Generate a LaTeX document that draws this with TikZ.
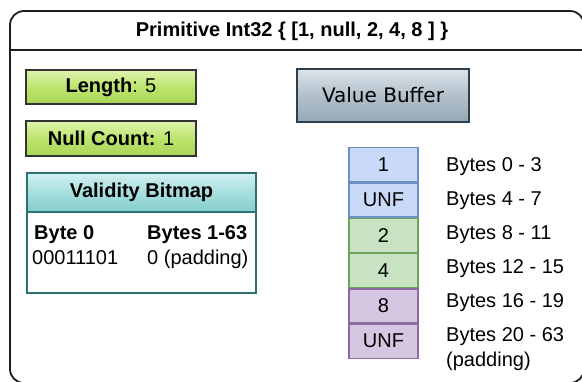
\documentclass[tikz,border=0pt]{standalone}
\usepackage{fontspec}
\setmainfont{Liberation Sans}
\newfontfamily\vbfont{DejaVu Sans}
\definecolor{framec}{HTML}{1E1E1E}
\definecolor{limetop}{HTML}{E0F4B0}
\definecolor{limemid}{HTML}{BCE46C}
\definecolor{limebot}{HTML}{AAD657}
\definecolor{slatetop}{HTML}{DDE4EA}
\definecolor{slatemid}{HTML}{B2C0CB}
\definecolor{slatebot}{HTML}{97A9B6}
\definecolor{slateline}{HTML}{2E3E4A}
\definecolor{tealtop}{HTML}{D2F0F0}
\definecolor{tealmid}{HTML}{A8DEDE}
\definecolor{tealbot}{HTML}{84CCCC}
\definecolor{tealline}{HTML}{2A7373}
\definecolor{bluefill}{HTML}{C9DAF8}
\definecolor{blueline}{HTML}{6D8FC4}
\definecolor{greenfill}{HTML}{C8E2C2}
\definecolor{greenline}{HTML}{6FA35A}
\definecolor{purplefill}{HTML}{D6C6E1}
\definecolor{purpleline}{HTML}{8C6AA4}
\tikzset{
  frame/.style={draw=framec, line width=1.8pt, rounded corners=14pt, inner sep=0},
  limebox/.style={draw=black!80, line width=1.3pt, top color=limetop, bottom color=limebot, middle color=limemid,
    minimum width=170pt, minimum height=34pt, inner sep=0, font=\fontsize{20}{24}\selectfont},
  slatebox/.style={draw=slateline, line width=1.3pt, top color=slatetop, bottom color=slatebot, middle color=slatemid,
    minimum width=172pt, minimum height=53pt, inner sep=0, font=\vbfont\fontsize{20}{24}\selectfont},
  tealhead/.style={draw=tealline, line width=1.3pt, top color=tealtop, bottom color=tealbot, middle color=tealmid,
    minimum width=229pt, minimum height=39pt, inner sep=0, font=\bfseries\fontsize{20}{24}\selectfont},
  tealbody/.style={draw=tealline, line width=1.3pt, fill=white, minimum width=229pt, minimum height=81pt, inner sep=0},
  cell/.style={line width=1.3pt, minimum width=69pt, minimum height=34pt, inner sep=0, anchor=north,
    font=\fontsize{20}{24}\selectfont},
  bluecell/.style={cell, draw=blueline, fill=bluefill},
  greencell/.style={cell, draw=greenline, fill=greenfill},
  purplecell/.style={cell, draw=purpleline, fill=purplefill},
  txt/.style={inner sep=0, anchor=base west, font=\fontsize{20}{25}\selectfont, align=left},
}
\begin{document}
\begin{tikzpicture}[x=1pt, y=-1pt]
\useasboundingbox (0,0) rectangle (582,381);

% outer container with its title bar
\node[frame, minimum width=574pt, minimum height=372pt] (outer) at (297,197) {};
\node[inner sep=0, font=\bfseries\fontsize{20}{24}\selectfont] (title) at (292,31) {Primitive Int32 \{ [1, null, 2, 4, 8 ] \}};
\coordinate (divL) at (10,50);
\coordinate (divR) at (584,50);
\draw[framec, line width=1.6pt] (divL) -- (divR);

% metadata boxes
\node[limebox] (length) at (111,87) {\textbf{Length}: 5};
\node[limebox, minimum height=35pt] (nullc) at (111,138.5) {\textbf{Null Count:} 1};

% validity bitmap
\node[tealbody] (vbody) at (141.5,252.5) {};
\node[tealhead] (vhead) at (141.5,192.5) {Validity Bitmap};
\node[txt, font=\bfseries\fontsize{20}{24}\selectfont] (b0) at (34,239) {Byte 0};
\node[txt, font=\bfseries\fontsize{20}{24}\selectfont] (b163) at (147,239) {Bytes 1-63};
\node[txt] (bits) at (32,264) {00011101};
\node[txt] (pad) at (147,264) {0 (padding)};

% value buffer
\node[slatebox] (vbuf) at (383,95.5) {Value Buffer};
\node[bluecell] (c1) at (383.5,147) {1};
\node[bluecell] (c2) at (c1.south) {UNF};
\node[greencell] (c3) at (c2.south) {2};
\node[greencell] (c4) at (c3.south) {4};
\node[purplecell] (c5) at (c4.south) {8};
\node[purplecell] (c6) at (c5.south) {UNF};

% byte ranges (base of a two-line label is its last line)
\node[txt] (l1) at (446,171) {Bytes 0 - 3};
\node[txt] (l2) at (446,205) {Bytes 4 - 7};
\node[txt] (l3) at (446,239) {Bytes 8 - 11};
\node[txt] (l4) at (446,273) {Bytes 12 - 15};
\node[txt] (l5) at (446,307) {Bytes 16 - 19};
\node[txt] (l6) at (446,366) {Bytes 20 - 63\\(padding)};
\end{tikzpicture}
\end{document}
